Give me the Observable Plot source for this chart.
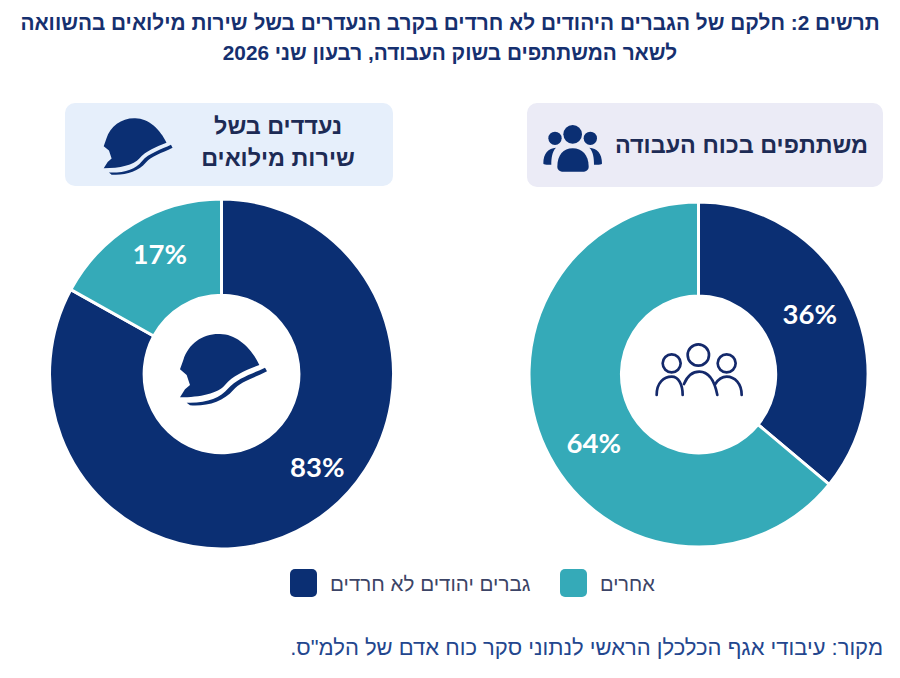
<!DOCTYPE html>
<html lang="he">
<head>
<meta charset="utf-8">
<script src="https://cdn.jsdelivr.net/npm/d3@7"></script>
<script src="https://cdn.jsdelivr.net/npm/@observablehq/plot@0.6"></script>
<style>
  html,body{margin:0;padding:0;background:#fff;}
  #page{position:relative;width:900px;height:678px;overflow:hidden;font-family:"Liberation Sans",Arial,sans-serif;}
  #page>*{position:absolute;}
  #title{left:0;top:8px;width:900px;text-align:center;direction:rtl;font-weight:700;font-size:20.8px;line-height:30px;color:#16306f;white-space:nowrap;}
  .card{border-radius:10px;}
  .head{direction:rtl;text-align:center;font-weight:700;font-size:23.4px;line-height:32px;color:#1d2b55;white-space:nowrap;}
  .leg{direction:rtl;white-space:nowrap;line-height:24px;color:#3c4466;}
  .sw{width:27px;height:28px;border-radius:5px;}
  #source{right:17px;top:635px;direction:rtl;font-size:22px;line-height:26px;color:#23468e;white-space:nowrap;}
</style>
</head>
<body>
<div id="page">
  <div id="title">תרשים 2: חלקם של הגברים היהודים לא חרדים בקרב הנעדרים בשל שירות מילואים בהשוואה<br>לשאר המשתתפים בשוק העבודה, רבעון שני 2026</div>

  <div class="card" style="left:65px;top:103px;width:328px;height:83px;background:#e6effb"></div>
  <div class="head" style="left:178px;top:110px;width:200px">נעדדים בשל<br>שירות מילואים</div>
  <svg style="left:101px;top:115px" width="74" height="62" viewBox="140 60 280 235" fill="#0b2f73"><use href="#helmet"/></svg>

  <div class="card" style="left:527px;top:103px;width:356px;height:84px;background:#ebebf6"></div>
  <div class="head" style="left:611px;top:129px;width:261px">משתתפים בכוח העבודה</div>
  <svg style="left:510px;top:95px" width="380" height="200" viewBox="0 0 1140 600" fill="#0b2f73">
    <circle cx="188" cy="118" r="28"/><circle cx="135" cy="130" r="20"/><circle cx="241" cy="130" r="20"/>
    <path d="M142 215C142 180 160 160 188 160C216 160 236 180 236 215C236 225 228 230 218 230L160 230C150 230 142 225 142 215Z"/>
    <path d="M100 205C100 175 115 160 138 158C126 170 124 190 124 209L110 209C103 209 100 208 100 205Z"/>
    <path d="M276 205C276 175 261 160 238 158C250 170 252 190 252 209L266 209C273 209 276 208 276 205Z"/>
  </svg>

  <div id="leftChart" style="left:0;top:0"></div>
  <div id="rightChart" style="left:0;top:0"></div>

  <svg style="left:130px;top:310px" width="180" height="120" viewBox="0 0 540 360" fill="#0b2f73">
    <defs><g id="helmet">
      <path d="M150 178L160 150C175 100 220 70 270 72C320 72 365 115 388 165C350 180 310 195 285 225C265 250 210 262 150 262L165 238L180 225L170 195Z"/>
      <path d="M170 278C230 280 270 265 295 235C320 205 370 190 405 173L411 184C370 205 330 215 310 240C280 275 230 290 180 286Z"/>
    </g></defs>
    <use href="#helmet"/>
  </svg>
  <svg style="left:610px;top:310px" width="180" height="120" viewBox="0 0 540 360" fill="none" stroke="#14296b" stroke-width="8" stroke-linecap="round">
    <circle cx="265" cy="135" r="32"/><circle cx="185" cy="160" r="27"/><circle cx="350" cy="160" r="27"/>
    <path d="M140 255C140 218 162 200 185 200C205 200 218 222 218 255"/>
    <path d="M222 222C232 198 246 185 268 185C292 185 312 205 322 255"/>
    <path d="M316 222C326 206 338 200 350 200C375 200 395 222 395 255"/>
  </svg>

  <div class="sw" style="left:290px;top:569px;background:#0b2f73"></div>
  <div class="leg" id="legA" style="left:330px;top:572px;font-size:20.6px"></div>
  <div class="sw" style="left:560px;top:569px;background:#35aab8"></div>
  <div class="leg" id="legB" style="left:600px;top:572px;font-size:20px"></div>

  <div id="source">מקור: עיבודי אגף הכלכלן הראשי לנתוני סקר כוח אדם של הלמ"ס.</div>
</div>
<script>
const groups = ["גברים יהודים לא חרדים", "אחרים"];
const absentShares = [83, 17];
const workforceShares = [36, 64];
const groupColors = ["#0b2f73", "#35aab8"];

document.getElementById("legA").textContent = groups[0];
document.getElementById("legB").textContent = groups[1];

function donut(target, shares, o) {
  const rows = groups.map((g, i) => ({group: g, share: shares[i]}));
  const arcs = d3.pie().sort(null).value(d => d.share)(rows);
  const inner = o.hole;
  const arcPath = d3.arc().innerRadius(inner).outerRadius(1);
  const pos = a => {
    const t = a * Math.PI / 180;
    return [o.labelR * Math.sin(t), o.labelR * Math.cos(t)];
  };
  const labelled = arcs.map((a, i) => {
    const [x, y] = pos(o.labelAngle[i]);
    return {x, y, text: a.data.share + "%"};
  });
  const chart = Plot.plot({
    width: 900, height: 678, margin: 0,
    x: {domain: [-1, 1], range: [o.cx - o.rx, o.cx + o.rx], axis: null},
    y: {domain: [-1, 1], range: [o.cy + o.ry, o.cy - o.ry], axis: null},
    color: {domain: groups, range: groupColors},
    style: {background: "transparent", overflow: "visible"},
    marks: [
      Plot.dot(arcs, {
        x: () => 0, y: () => 0, fill: d => d.data.group, r: 0,
        render(index, scales, values) {
          const g = d3.create("svg:g");
          const x0 = scales.x(0), y0 = scales.y(0);
          const sx = scales.x(1) - x0, sy = y0 - scales.y(1);
          g.selectAll("path").data(index).join("path")
            .attr("d", i => arcPath(arcs[i]))
            .attr("transform", `translate(${x0},${y0}) scale(${sx},${sy})`)
            .attr("fill", i => values.fill[i])
            .attr("stroke", "#fff")
            .attr("stroke-width", 3)
            .attr("vector-effect", "non-scaling-stroke");
          return g.node();
        }
      }),
      Plot.text(labelled, {
        x: "x", y: "y", text: "text", fill: "#fff", fontWeight: 700,
        fontSize: 27.5, fontFamily: "Lato, 'Open Sans', sans-serif"
      })
    ]
  });
  document.getElementById(target).append(chart);
}

donut("leftChart", absentShares, {cx: 221.5, cy: 374, rx: 172, ry: 175, hole: 0.45, labelR: 0.77, labelAngle: [134, 332]});
donut("rightChart", workforceShares, {cx: 698.5, cy: 374.5, rx: 169.5, ry: 172.5, hole: 0.455, labelR: 0.74, labelAngle: [62, 237]});
</script>
</body>
</html>
